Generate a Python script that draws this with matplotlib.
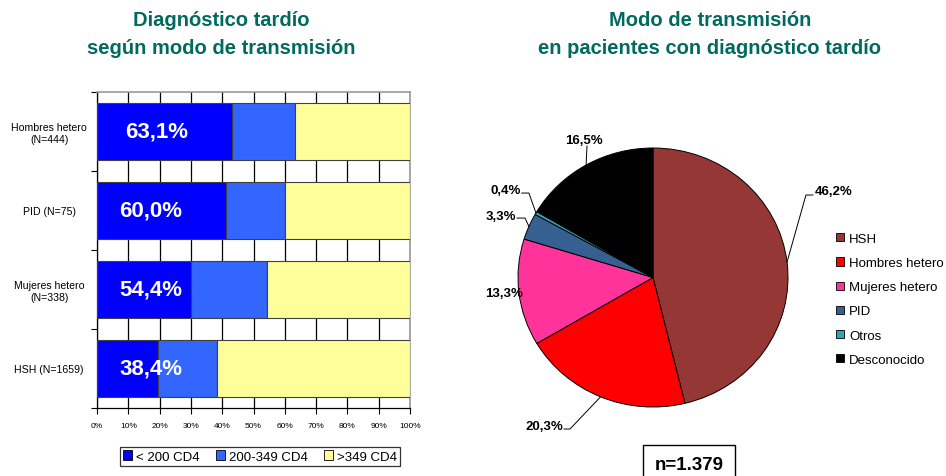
import numpy as np
import matplotlib; matplotlib.use('Agg'); import matplotlib.pyplot as plt
from matplotlib.patches import Patch, Rectangle

plt.rcParams['font.family'] = ['Liberation Sans', 'DejaVu Sans']

# ============ datos ============
# barras (de abajo a arriba)
grupos = ['HSH (N=1659)', 'Mujeres hetero\n(N=338)', 'PID (N=75)', 'Hombres hetero\n(N=444)']
cd4_lt200 = [19.6, 30.0, 41.3, 43.2]
cd4_200_349 = [18.8, 24.4, 18.7, 19.9]
cd4_gt349 = [61.6, 45.6, 40.0, 36.9]
tardio_txt = ['38,4%', '54,4%', '60,0%', '63,1%']
series_bar = ['< 200 CD4', '200-349 CD4', '>349 CD4']

# tarta
modos = ['HSH', 'Hombres hetero', 'Mujeres hetero', 'PID', 'Otros', 'Desconocido']
modos_pct = [46.2, 20.3, 13.3, 3.3, 0.4, 16.5]
modos_txt = ['46,2%', '20,3%', '13,3%', '3,3%', '0,4%', '16,5%']
n_total = 'n=1.379'

# ============ estilo ============
TEAL = '#006A60'
col_bar = ['#0000FF', '#3366FF', '#FFFF99']
col_pie = ['#953735', '#FF0000', '#FF3399', '#376092', '#31A2B8', '#000000']
# posicion de etiquetas (x, y, ha) y codo de la linea guia, en radios
lab_pos = [(1.20, 0.668, 'left'), (-0.667, -1.147, 'right'), (-0.963, -0.120, 'right'),
           (-1.015, 0.475, 'right'), (-0.978, 0.676, 'right'), (-0.515, 1.062, 'center')]
codo = [[(1.185, 0.637), (1.133, 0.637)], [(-0.659, -1.170), (-0.615, -1.170)], None,
        [(-1.007, 0.459), (-0.948, 0.459)], [(-0.972, 0.652), (-0.919, 0.652)],
        [(-0.489, 1.015)]]
pct_x = [17.2, 17.2, 17.0, 19.2]

W, H = 946, 477
fig = plt.figure(figsize=(W / 100, H / 100), dpi=100)

# ---- titulos ----
fig.text(221 / W, 1 - 20 / H, 'Diagnóstico tardío', ha='center', va='center',
         fontsize=14.5, fontweight='bold', color=TEAL)
fig.text(221 / W, 1 - 48 / H, 'según modo de transmisión', ha='center', va='center',
         fontsize=14.5, fontweight='bold', color=TEAL)
fig.text(710 / W, 1 - 20 / H, 'Modo de transmisión', ha='center', va='center',
         fontsize=14.5, fontweight='bold', color=TEAL)
fig.text(710 / W, 1 - 48 / H, 'en pacientes con diagnóstico tardío', ha='center', va='center',
         fontsize=14.5, fontweight='bold', color=TEAL)

# ---- grafico de barras ----
ax = fig.add_axes([97 / W, 68 / H, 313 / W, 316 / H])
y = np.arange(len(grupos))
izq = np.zeros(len(grupos))
for vals, c, lab in zip([cd4_lt200, cd4_200_349, cd4_gt349], col_bar, series_bar):
    ax.barh(y, vals, left=izq, height=0.72, color=c, edgecolor='#404040',
            linewidth=0.8, label=lab, zorder=3)
    izq += np.array(vals)
for yi, t, xi in zip(y, tardio_txt, pct_x):
    ax.text(xi, yi, t, ha='center', va='center', color='white', fontsize=16,
            fontweight='bold', zorder=4)
ax.set_xlim(0, 100)
ax.set_ylim(-0.5, len(grupos) - 0.5)
ax.set_xticks(np.arange(0, 101, 10))
ax.set_xticklabels([f'{v}%' for v in range(0, 101, 10)], fontsize=6)
ax.set_yticks(y)
ax.set_yticklabels(grupos, fontsize=7.6, ha='center', multialignment='center')
ax.tick_params(axis='y', length=0, pad=34.5)
ax.set_yticks(np.arange(-0.5, len(grupos), 1), minor=True)
ax.tick_params(axis='y', which='minor', length=4, width=0.8)
ax.tick_params(axis='x', length=4, width=0.8, pad=6)
ax.grid(axis='x', color='black', linewidth=0.9, zorder=1)
ax.set_axisbelow(True)
for s in ['left', 'bottom']:
    ax.spines[s].set_color('black'); ax.spines[s].set_linewidth(0.9)
for s in ['top', 'right']:
    ax.spines[s].set_color('#9a9a9a'); ax.spines[s].set_linewidth(1.2)
leg = fig.legend(*ax.get_legend_handles_labels(), loc='center',
                 bbox_to_anchor=(260 / W, 1 - 457.5 / H), ncol=3, fontsize=9.5,
                 fancybox=False, edgecolor='black', handlelength=0.7, handleheight=0.7,
                 handletextpad=0.3, columnspacing=1.2, borderpad=0.25)
leg.get_frame().set_linewidth(0.9)
for h in leg.legend_handles:
    h.set_edgecolor('black'); h.set_linewidth(0.6)

# ---- tarta ----
rx, ry = 135, 129.5
cx, cy = 653, 278.5
axp = fig.add_axes([(cx - 1.5 * rx) / W, (H - cy - 1.5 * ry) / H, 3 * rx / W, 3 * ry / H])
wedges, _ = axp.pie(modos_pct, colors=col_pie, startangle=90, counterclock=False,
                    wedgeprops=dict(edgecolor='black', linewidth=0.7))
axp.set_aspect('auto')
axp.set_xlim(-1.5, 1.5); axp.set_ylim(-1.5, 1.5)
axp.axis('off')
for w, t, (tx, ty, ha), cd in zip(wedges, modos_txt, lab_pos, codo):
    ang = np.deg2rad((w.theta1 + w.theta2) / 2)
    ex, ey = np.cos(ang), np.sin(ang)
    axp.text(tx, ty, t, ha=ha, va='center', fontsize=9.5, fontweight='bold')
    if cd is not None:
        pts = cd + [(ex, ey)]
        axp.plot([p[0] for p in pts], [p[1] for p in pts], color='black', lw=0.7)

lg2 = fig.legend([Patch(facecolor=c, edgecolor='black', linewidth=0.6) for c in col_pie],
                 modos, loc='upper left', bbox_to_anchor=(836 / W, 1 - 234 / H),
                 fontsize=9.5, frameon=False, handlelength=0.58, handleheight=0.58,
                 handletextpad=0.4, labelspacing=0.92, borderpad=0, borderaxespad=0)

fig.patches.append(Rectangle((643 / W, -0.05), 92 / W, (H - 446) / H + 0.05,
                             transform=fig.transFigure, facecolor='white',
                             edgecolor='black', linewidth=1.0))
fig.text(689 / W, 1 - 466 / H, n_total, ha='center', va='center', fontsize=13.5,
         fontweight='bold')

fig.savefig('out.png', dpi=100)
